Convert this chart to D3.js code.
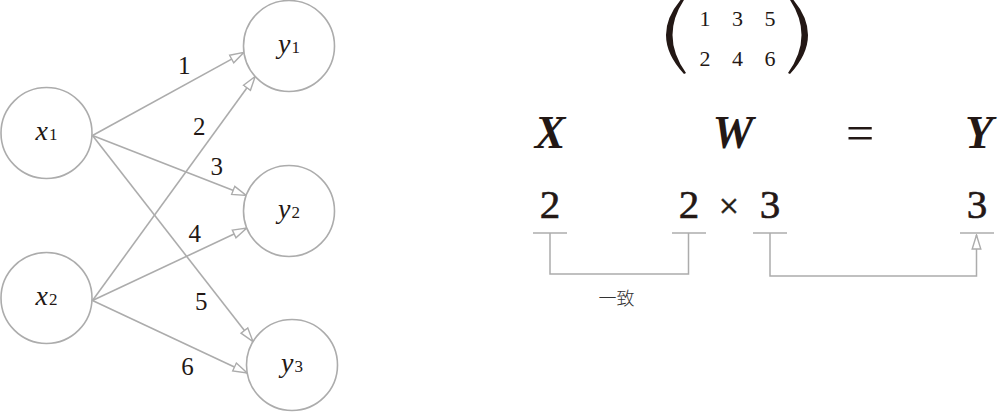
<!DOCTYPE html>
<html><head><meta charset="utf-8">
<script src="https://cdn.jsdelivr.net/npm/d3@7"></script>
<style>
html,body{margin:0;padding:0;background:#fff;overflow:hidden}svg{display:block}
.serif{font-family:"Liberation Serif","Tinos","Times New Roman","DejaVu Serif","Noto Serif","FreeSerif",serif}
.cjk{font-family:"Noto Sans CJK JP","Noto Sans CJK SC",sans-serif}
</style>
</head><body>
<script>
// ---- data ----
const inputs = ["x1", "x2"];
const outputs = ["y1", "y2", "y3"];
const weights = [[1, 3, 5], [2, 4, 6]];          // weights[i][j]: x_i -> y_j
const symbols = ["X", "W", "=", "Y"];
const dimLabels = ["2", "2", "3", "3"];          // X rows, W rows, W cols, Y cols
const matchLabel = "一致";
const timesSign = "×";

// ---- layout / style ----
const W = 1000, H = 412;
const INK = "#231815", LINE = "#acacac";
const R = 45.5;
const endAng = [[172, 200, 211], [138, 158, 170]];
const lblT = [[0.66, 0.77, 0.756], [0.735, 0.71, 0.668]];
const lblS = [[17, 16, -16], [16, 17, -19.5]];

const svg = d3.select("body").append("svg").attr("width", W).attr("height", H);
const defs = svg.append("defs");
defs.append("marker").attr("id", "arr").attr("markerUnits", "userSpaceOnUse")
  .attr("viewBox", "-1 -6 16 12").attr("refX", 14).attr("refY", 0)
  .attr("markerWidth", 16).attr("markerHeight", 12).attr("orient", "auto")
  .append("path").attr("d", "M0,-4.3L14,0L0,4.3Z")
  .attr("fill", "#fff").attr("stroke", LINE).attr("stroke-width", 1.4).attr("stroke-linejoin", "miter");

// scales
const xIn = 46.5;
const xOut = d3.scaleOrdinal().domain(outputs).range([289, 289, 292]);
const yIn = d3.scalePoint().domain(inputs).range([133, 298]);
const yOut = d3.scaleOrdinal().domain(outputs).range([46, 211, 365]);

// edges
const edges = [];
inputs.forEach((a, i) => outputs.forEach((b, j) => {
  const sx = xIn + R + 0.5, sy = yIn(a) + 2.5;
  const ang = endAng[i][j] * Math.PI / 180;
  const ex = xOut(b) + R * Math.cos(ang), ey = yOut(b) + R * Math.sin(ang);
  edges.push({ i, j, w: weights[i][j], sx, sy, ex, ey });
}));

const g = svg.append("g");
g.selectAll("line.edge").data(edges).join("line").attr("class", "edge")
  .attr("x1", d => d.sx).attr("y1", d => d.sy).attr("x2", d => d.ex).attr("y2", d => d.ey)
  .attr("stroke", LINE).attr("stroke-width", 1.6).attr("marker-end", "url(#arr)");

// edge labels
const LF = 25;
g.selectAll("text.w").data(edges).join("text").attr("class", "w serif")
  .each(function (d) {
    const dx = d.ex - d.sx, dy = d.ey - d.sy, L = Math.hypot(dx, dy);
    const nx = dy / L, ny = -dx / L, t = lblT[d.i][d.j], s = lblS[d.i][d.j];
    d.lx = d.sx + dx * t + nx * s; d.ly = d.sy + dy * t + ny * s;
  })
  .attr("x", d => d.lx).attr("y", d => d.ly + LF * 0.34)
  .attr("text-anchor", "middle").style("font-size", LF + "px")
  .attr("fill", INK).text(d => d.w);

// nodes
const nodes = inputs.map(n => ({ n, x: xIn, y: yIn(n) }))
  .concat(outputs.map(n => ({ n, x: xOut(n), y: yOut(n) })));
const ng = g.selectAll("g.node").data(nodes).join("g").attr("class", "node")
  .attr("transform", d => `translate(${d.x},${d.y})`);
ng.append("circle").attr("r", R).attr("fill", "#fff").attr("stroke", LINE).attr("stroke-width", 1.6);
const nt = ng.append("text").attr("class", "serif").attr("text-anchor", "middle").attr("y", 7)
  .attr("fill", INK);
nt.append("tspan").style("font-style", "italic").style("font-size", "28px").text(d => d.n[0]);
nt.append("tspan").style("font-size", "17px").attr("dx", 1).text(d => d.n.slice(1));

// ---- right side: matrix W ----
const mcol = d3.scalePoint().domain([0, 1, 2]).range([705, 770]);
const mrow = d3.scalePoint().domain([0, 1]).range([19, 59]);
const cells = [];
weights.forEach((row, r) => row.forEach((v, c) => cells.push({ r, c, v })));
const MF = 22;
svg.selectAll("text.m").data(cells).join("text").attr("class", "m serif")
  .attr("x", d => mcol(d.c)).attr("y", d => mrow(d.r) + MF * 0.34)
  .attr("text-anchor", "middle").style("font-size", MF + "px")
  .attr("fill", INK).text(d => d.v);
// parentheses
svg.append("path").attr("fill", INK)
  .attr("d", "M684,-4Q648,35 684,74L686,73Q659,35 686,-3Z");
svg.append("path").attr("fill", INK)
  .attr("d", "M790,-4Q826,35 790,74L788,73Q815,35 788,-3Z");

// symbols
const symX = d3.scaleOrdinal().domain(symbols).range([550, 733, 860, 979]);
svg.selectAll("text.sym").data(symbols).join("text").attr("class", "sym serif")
  .attr("x", d => symX(d)).attr("y", d => d === "=" ? 150 : 148)
  .attr("text-anchor", "middle")
  .style("font-size", d => (d === "=" ? 50 : 46) + "px")
  .style("font-weight", d => d === "=" ? "normal" : "bold")
  .style("font-style", d => d === "=" ? "normal" : "italic")
  .attr("fill", INK).text(d => d);

// dimensions
const dimX = d3.scaleOrdinal().domain([0, 1, 2, 3]).range([550, 689, 770, 977]);
const DF = 41, baseY = 218, uY = 233;
svg.selectAll("text.dim").data(dimLabels).join("text").attr("class", "dim serif")
  .attr("x", (d, k) => dimX(k)).attr("y", baseY)
  .attr("text-anchor", "middle").style("font-size", DF + "px")
  .attr("fill", INK).attr("stroke", INK).attr("stroke-width", 0.6).text(d => d);
svg.append("text").attr("class", "serif").attr("x", 729).attr("y", 218).attr("text-anchor", "middle")
  .style("font-size", "36px").attr("fill", INK).attr("stroke", INK).attr("stroke-width", 0.5).text(timesSign);

// underlines
svg.selectAll("line.u").data(dimLabels).join("line").attr("class", "u")
  .attr("x1", (d, k) => dimX(k) - 17).attr("x2", (d, k) => dimX(k) + 17)
  .attr("y1", uY).attr("y2", uY).attr("stroke", LINE).attr("stroke-width", 1.5);

// connectors
const conns = [{ a: 0, b: 1, depth: 274, arrow: false }, { a: 2, b: 3, depth: 276, arrow: true }];
svg.selectAll("path.c").data(conns).join("path").attr("class", "c")
  .attr("d", d => `M${dimX(d.a)},${uY}V${d.depth}H${dimX(d.b) - 0.5}V${d.arrow ? uY + 2 : uY}`)
  .attr("fill", "none").attr("stroke", LINE).attr("stroke-width", 1.5)
  .attr("marker-end", d => d.arrow ? "url(#arr)" : null);

svg.append("text").attr("class", "cjk").attr("x", (dimX(0) + dimX(1)) / 2 - 3).attr("y", 305)
  .attr("text-anchor", "middle")
  .style("font-size", "18px").style("font-weight", 300).attr("fill", "#333").text(matchLabel);
</script>
</body></html>
